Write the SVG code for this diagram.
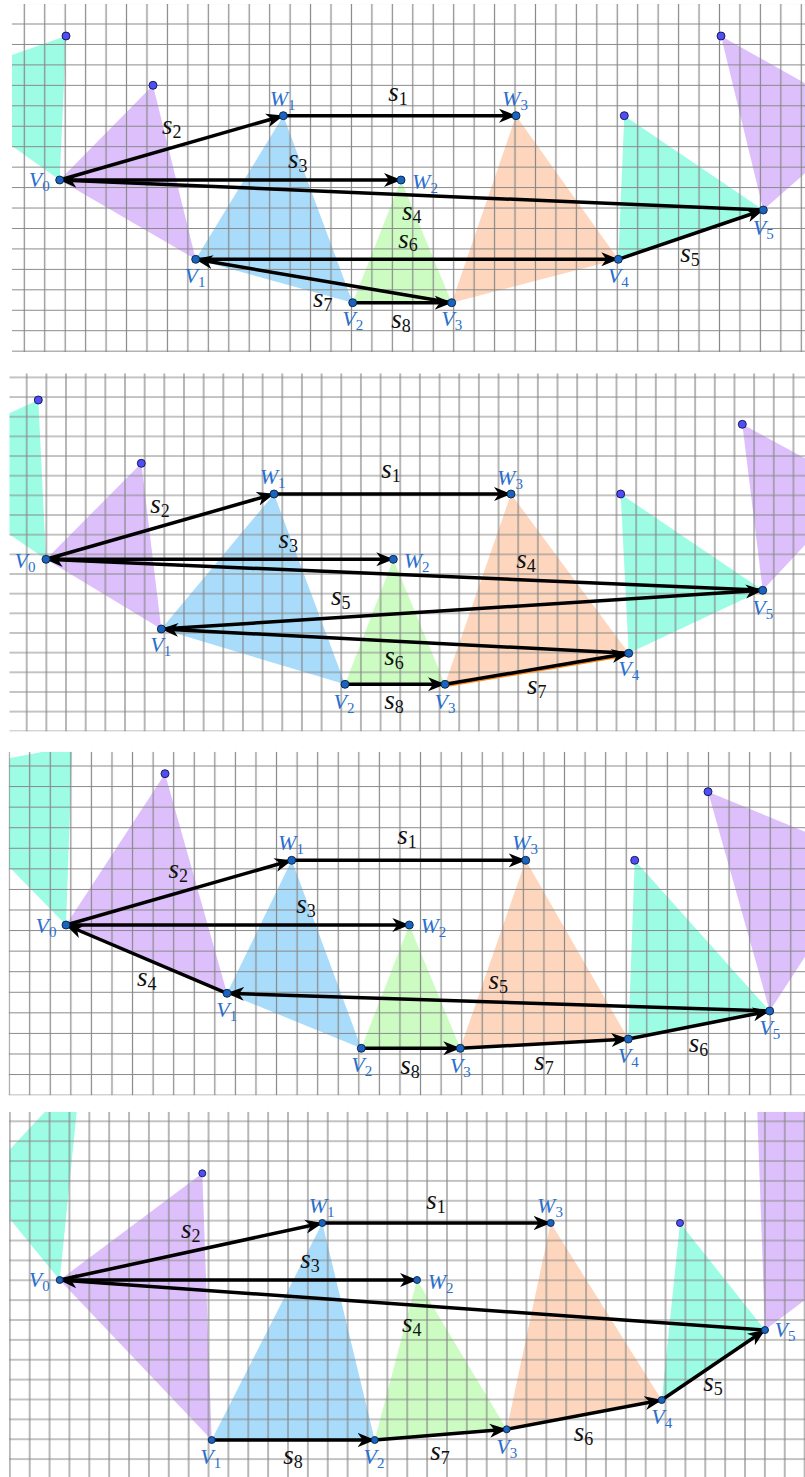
<svg xmlns="http://www.w3.org/2000/svg" width="805" height="1477" viewBox="0 0 805 1477">
<style>
.grid{stroke:#888;stroke-width:1.2;fill:none}
.teal{fill:#9cfce4}.pur{fill:#ddc0fb}.blu{fill:#a9dbfa}.grn{fill:#cdfcc3}.org{fill:#fdd6bd}
.cn line{stroke:#000;stroke-width:3.5;marker-end:url(#ah)}
.nd{fill:#1a63bf;stroke:#0a2240;stroke-width:0.9}
.fr{fill:#4f4ff5;stroke:#101050;stroke-width:0.9}
.nl{font-family:"Liberation Serif",serif;font-style:italic;font-size:22px;fill:#2a6fce;text-anchor:middle}
.sl{font-family:"Liberation Serif",serif;font-style:italic;font-size:27px;fill:#111;text-anchor:middle}
.nl .sb{font-style:normal;font-size:15px}
.sl .sb{font-style:normal;font-size:18px}
</style>
<defs>
<marker id="ah" markerUnits="userSpaceOnUse" markerWidth="18" markerHeight="16" viewBox="0 0 18 16" refX="17" refY="8" orient="auto">
<path d="M0,1 L17.5,8 L0,15 L5,8 Z" fill="#000"/>
</marker>
<pattern id="g1" patternUnits="userSpaceOnUse" x="14.077" y="13.777" width="20.447" height="20.447"><path class="grid" d="M10.223,0V20.447M0,10.223H20.447"/></pattern>
<pattern id="g2" patternUnits="userSpaceOnUse" x="16.87" y="367.57" width="19.66" height="19.66"><path class="grid" d="M9.83,0V19.66M0,9.83H19.66"/></pattern>
<pattern id="g3" patternUnits="userSpaceOnUse" x="19.415" y="755.715" width="20.57" height="20.57"><path class="grid" d="M10.285,0V20.57M0,10.285H20.57"/></pattern>
<pattern id="g4" patternUnits="userSpaceOnUse" x="19.765" y="1111.365" width="19.87" height="19.87"><path class="grid" d="M9.935,0V19.87M0,9.935H19.87"/></pattern>
<clipPath id="c1"><rect x="12" y="4" width="793" height="348"/></clipPath>
<clipPath id="c2"><rect x="9.3" y="373.3" width="795.7" height="358.3"/></clipPath>
<clipPath id="c3"><rect x="8.5" y="751.7" width="796.5" height="343.9"/></clipPath>
<clipPath id="c4"><rect x="9" y="1111.7" width="796" height="365.3"/></clipPath>
</defs>
<rect width="805" height="1477" fill="#fff"/>

<!-- PANEL 1 -->
<g id="panel1" clip-path="url(#c1)">
<g id="p1-fills">
<polygon class="teal" points="66,36 12,55 12,146 59.7,180"/>
<polygon class="pur" points="153,85.3 59.7,180 195.7,259.3"/>
<polygon class="blu" points="283.3,115.7 195.7,259.3 352.7,302.7"/>
<polygon class="grn" points="401,180 352.7,302.7 451.7,302.7"/>
<polygon class="org" points="516,115.7 451.7,302.7 618.3,259.3"/>
<polygon class="teal" points="624.3,115.7 618.3,259.3 763.3,210"/>
<polygon class="pur" points="721,36 805,83.3 805,173.3 763.3,210"/>
</g>
<rect x="12" y="4" width="793" height="348" fill="url(#g1)"/>
<g id="p1-connectors" class="cn">
<line x1="283.3" y1="115.7" x2="516" y2="115.7"/>
<line x1="59.7" y1="180" x2="283.3" y2="115.7"/>
<line x1="59.7" y1="180" x2="401" y2="180"/>
<line x1="763.3" y1="210" x2="59.7" y2="180"/>
<line x1="618.3" y1="259.3" x2="763.3" y2="210"/>
<line x1="195.7" y1="259.3" x2="618.3" y2="259.3"/>
<line x1="451.7" y1="302.7" x2="195.7" y2="259.3"/>
<line x1="352.7" y1="302.7" x2="451.7" y2="302.7"/>
</g>
<g id="p1-free"><circle class="fr" cx="66" cy="36" r="4"/><circle class="fr" cx="153" cy="85.3" r="4"/><circle class="fr" cx="624.3" cy="115.7" r="4"/><circle class="fr" cx="721" cy="36" r="4"/></g>
<g id="p1-V0"><circle class="nd" cx="59.7" cy="180" r="4"/><text class="nl" x="39.3" y="187">V<tspan class="sb" dy="4">0</tspan></text></g>
<g id="p1-V1"><circle class="nd" cx="195.7" cy="259.3" r="4"/><text class="nl" x="195" y="283">V<tspan class="sb" dy="4">1</tspan></text></g>
<g id="p1-V2"><circle class="nd" cx="352.7" cy="302.7" r="4"/><text class="nl" x="352.7" y="326">V<tspan class="sb" dy="4">2</tspan></text></g>
<g id="p1-V3"><circle class="nd" cx="451.7" cy="302.7" r="4"/><text class="nl" x="451.7" y="326.3">V<tspan class="sb" dy="4">3</tspan></text></g>
<g id="p1-V4"><circle class="nd" cx="618.3" cy="259.3" r="4"/><text class="nl" x="618.3" y="283">V<tspan class="sb" dy="4">4</tspan></text></g>
<g id="p1-V5"><circle class="nd" cx="763.3" cy="210" r="4"/><text class="nl" x="763.3" y="235.3">V<tspan class="sb" dy="4">5</tspan></text></g>
<g id="p1-W1"><circle class="nd" cx="283.3" cy="115.7" r="4"/><text class="nl" x="282.7" y="106.3">W<tspan class="sb" dy="4">1</tspan></text></g>
<g id="p1-W2"><circle class="nd" cx="401" cy="180" r="4"/><text class="nl" x="425" y="188.7">W<tspan class="sb" dy="4">2</tspan></text></g>
<g id="p1-W3"><circle class="nd" cx="516" cy="115.7" r="4"/><text class="nl" x="515" y="106.3">W<tspan class="sb" dy="4">3</tspan></text></g>
<g id="p1-labels">
<text class="sl" x="398" y="101">s<tspan class="sb" dy="4">1</tspan></text>
<text class="sl" x="171.7" y="133.7">s<tspan class="sb" dy="4">2</tspan></text>
<text class="sl" x="297.7" y="168.3">s<tspan class="sb" dy="4">3</tspan></text>
<text class="sl" x="411.7" y="220">s<tspan class="sb" dy="3">4</tspan></text>
<text class="sl" x="690" y="262">s<tspan class="sb" dy="4">5</tspan></text>
<text class="sl" x="408" y="247.5">s<tspan class="sb" dy="3">6</tspan></text>
<text class="sl" x="322.7" y="306.7">s<tspan class="sb" dy="4">7</tspan></text>
<text class="sl" x="401" y="328">s<tspan class="sb" dy="4">8</tspan></text>
</g>
</g>

<!-- PANEL 2 -->
<g id="panel2" clip-path="url(#c2)">
<g id="p2-fills">
<polygon class="teal" points="38.3,400 9.3,413.3 9.3,534.3 46,559.3"/>
<polygon class="pur" points="141.3,463.3 46,559.3 161.3,629"/>
<polygon class="blu" points="274,494 161.3,629 345,684.3"/>
<polygon class="grn" points="393.3,559.3 345,684.3 445,684.3"/>
<polygon class="org" points="511,494 445,684.3 628.7,653.3"/>
<polygon class="teal" points="620.7,494 628.7,653.3 762.7,590.3"/>
<polygon class="pur" points="742.3,424.3 805,458.3 805,545 762.7,590.3"/>
</g>
<rect x="9.3" y="373.3" width="795.7" height="358.3" fill="url(#g2)"/>
<g id="p2-connectors" class="cn">
<line x1="445" y1="685.8" x2="628.7" y2="654.8" style="stroke:#ff8a1c;stroke-width:3;marker-end:none"/>
<line x1="274" y1="494" x2="511" y2="494"/>
<line x1="46" y1="559.3" x2="274" y2="494"/>
<line x1="46" y1="559.3" x2="393.3" y2="559.3"/>
<line x1="762.7" y1="590.3" x2="46" y2="559.3"/>
<line x1="161.3" y1="629" x2="762.7" y2="590.3"/>
<line x1="628.7" y1="653.3" x2="161.3" y2="629"/>
<line x1="445" y1="684.3" x2="628.7" y2="653.3"/>
<line x1="345" y1="684.3" x2="445" y2="684.3"/>
</g>
<g id="p2-free"><circle class="fr" cx="38.3" cy="400" r="4"/><circle class="fr" cx="141.3" cy="463.3" r="4"/><circle class="fr" cx="620.7" cy="494" r="4"/><circle class="fr" cx="742.3" cy="424.3" r="4"/></g>
<g id="p2-V0"><circle class="nd" cx="46" cy="559.3" r="4"/><text class="nl" x="25" y="568">V<tspan class="sb" dy="4">0</tspan></text></g>
<g id="p2-V1"><circle class="nd" cx="161.3" cy="629" r="4"/><text class="nl" x="160.7" y="652">V<tspan class="sb" dy="4">1</tspan></text></g>
<g id="p2-V2"><circle class="nd" cx="345" cy="684.3" r="4"/><text class="nl" x="344" y="708.7">V<tspan class="sb" dy="4">2</tspan></text></g>
<g id="p2-V3"><circle class="nd" cx="445" cy="684.3" r="4"/><text class="nl" x="445" y="708.7">V<tspan class="sb" dy="4">3</tspan></text></g>
<g id="p2-V4"><circle class="nd" cx="628.7" cy="653.3" r="4"/><text class="nl" x="628.7" y="676">V<tspan class="sb" dy="4">4</tspan></text></g>
<g id="p2-V5"><circle class="nd" cx="762.7" cy="590.3" r="4"/><text class="nl" x="762.7" y="614.7">V<tspan class="sb" dy="4">5</tspan></text></g>
<g id="p2-W1"><circle class="nd" cx="274" cy="494" r="4"/><text class="nl" x="272.7" y="484.3">W<tspan class="sb" dy="4">1</tspan></text></g>
<g id="p2-W2"><circle class="nd" cx="393.3" cy="559.3" r="4"/><text class="nl" x="416.7" y="568">W<tspan class="sb" dy="4">2</tspan></text></g>
<g id="p2-W3"><circle class="nd" cx="511" cy="494" r="4"/><text class="nl" x="510" y="484.7">W<tspan class="sb" dy="4">3</tspan></text></g>
<g id="p2-labels">
<text class="sl" x="391" y="478">s<tspan class="sb" dy="4">1</tspan></text>
<text class="sl" x="160" y="512.7">s<tspan class="sb" dy="4">2</tspan></text>
<text class="sl" x="288.3" y="547.7">s<tspan class="sb" dy="4">3</tspan></text>
<text class="sl" x="526" y="567.7">s<tspan class="sb" dy="4">4</tspan></text>
<text class="sl" x="340.7" y="605.3">s<tspan class="sb" dy="4">5</tspan></text>
<text class="sl" x="394" y="665">s<tspan class="sb" dy="4">6</tspan></text>
<text class="sl" x="536.7" y="694.3">s<tspan class="sb" dy="4">7</tspan></text>
<text class="sl" x="394" y="709">s<tspan class="sb" dy="4">8</tspan></text>
</g>
</g>

<!-- PANEL 3 -->
<g id="panel3" clip-path="url(#c3)">
<g id="p3-fills">
<polygon class="teal" points="9,758.3 43.3,751.7 72,751.7 66,925 9,866.7"/>
<polygon class="pur" points="165,773.7 66,925 227,993.3"/>
<polygon class="blu" points="291.7,860.3 227,993.3 361.3,1048.3"/>
<polygon class="grn" points="409.3,925 361.3,1048.3 460.3,1048.3"/>
<polygon class="org" points="525.7,860.3 460.3,1048.3 628.3,1039"/>
<polygon class="teal" points="634.7,860.3 628.3,1039 769.7,1011"/>
<polygon class="pur" points="708,791.7 805,831.7 805,956.7 769.7,1011"/>
</g>
<rect x="8.5" y="751.7" width="796.5" height="343.9" fill="url(#g3)"/>
<g id="p3-connectors" class="cn">
<line x1="291.7" y1="860.3" x2="525.7" y2="860.3"/>
<line x1="66" y1="925" x2="291.7" y2="860.3"/>
<line x1="66" y1="925" x2="409.3" y2="925"/>
<line x1="227" y1="993.3" x2="66" y2="925"/>
<line x1="769.7" y1="1011" x2="227" y2="993.3"/>
<line x1="628.3" y1="1039" x2="769.7" y2="1011"/>
<line x1="460.3" y1="1048.3" x2="628.3" y2="1039"/>
<line x1="361.3" y1="1048.3" x2="460.3" y2="1048.3"/>
</g>
<g id="p3-free"><circle class="fr" cx="165" cy="773.7" r="4"/><circle class="fr" cx="634.7" cy="860.3" r="4"/><circle class="fr" cx="708" cy="791.7" r="4"/></g>
<g id="p3-V0"><circle class="nd" cx="66" cy="925" r="4"/><text class="nl" x="46" y="932.7">V<tspan class="sb" dy="4">0</tspan></text></g>
<g id="p3-V1"><circle class="nd" cx="227" cy="993.3" r="4"/><text class="nl" x="226.7" y="1017">V<tspan class="sb" dy="4">1</tspan></text></g>
<g id="p3-V2"><circle class="nd" cx="361.3" cy="1048.3" r="4"/><text class="nl" x="361.7" y="1072">V<tspan class="sb" dy="4">2</tspan></text></g>
<g id="p3-V3"><circle class="nd" cx="460.3" cy="1048.3" r="4"/><text class="nl" x="460.3" y="1072.7">V<tspan class="sb" dy="4">3</tspan></text></g>
<g id="p3-V4"><circle class="nd" cx="628.3" cy="1039" r="4"/><text class="nl" x="628.3" y="1063">V<tspan class="sb" dy="4">4</tspan></text></g>
<g id="p3-V5"><circle class="nd" cx="769.7" cy="1011" r="4"/><text class="nl" x="769.7" y="1035.3">V<tspan class="sb" dy="4">5</tspan></text></g>
<g id="p3-W1"><circle class="nd" cx="291.7" cy="860.3" r="4"/><text class="nl" x="291" y="850.3">W<tspan class="sb" dy="4">1</tspan></text></g>
<g id="p3-W2"><circle class="nd" cx="409.3" cy="925" r="4"/><text class="nl" x="433.3" y="932.7">W<tspan class="sb" dy="4">2</tspan></text></g>
<g id="p3-W3"><circle class="nd" cx="525.7" cy="860.3" r="4"/><text class="nl" x="525" y="850.3">W<tspan class="sb" dy="4">3</tspan></text></g>
<g id="p3-labels">
<text class="sl" x="407" y="844">s<tspan class="sb" dy="4">1</tspan></text>
<text class="sl" x="178.3" y="877.7">s<tspan class="sb" dy="4">2</tspan></text>
<text class="sl" x="306" y="912.7">s<tspan class="sb" dy="4">3</tspan></text>
<text class="sl" x="146.7" y="986">s<tspan class="sb" dy="4">4</tspan></text>
<text class="sl" x="498.3" y="988.7">s<tspan class="sb" dy="4">5</tspan></text>
<text class="sl" x="698.5" y="1052">s<tspan class="sb" dy="4">6</tspan></text>
<text class="sl" x="544" y="1070.3">s<tspan class="sb" dy="4">7</tspan></text>
<text class="sl" x="410" y="1074">s<tspan class="sb" dy="4">8</tspan></text>
</g>
</g>

<!-- PANEL 4 -->
<g id="panel4" clip-path="url(#c4)">
<g id="p4-fills">
<polygon class="teal" points="9.3,1150 45,1111.7 76.7,1111.7 59.7,1280 9.3,1218.3"/>
<polygon class="pur" points="202.3,1173.3 59.7,1280 211.7,1440"/>
<polygon class="blu" points="322.3,1223 211.7,1440 374.7,1440"/>
<polygon class="grn" points="417,1280 374.7,1440 506.7,1429.3"/>
<polygon class="org" points="550.7,1223 506.7,1429.3 661.7,1400"/>
<polygon class="teal" points="680,1223 661.7,1400 765,1330"/>
<polygon class="pur" points="757.3,1111.7 805,1111.7 805,1300 765,1330"/>
</g>
<rect x="9" y="1111.7" width="796" height="365.3" fill="url(#g4)"/>
<g id="p4-connectors" class="cn">
<line x1="322.3" y1="1223" x2="550.7" y2="1223"/>
<line x1="59.7" y1="1280" x2="322.3" y2="1223"/>
<line x1="59.7" y1="1280" x2="417" y2="1280"/>
<line x1="765" y1="1330" x2="59.7" y2="1280"/>
<line x1="661.7" y1="1400" x2="765" y2="1330"/>
<line x1="506.7" y1="1429.3" x2="661.7" y2="1400"/>
<line x1="374.7" y1="1440" x2="506.7" y2="1429.3"/>
<line x1="211.7" y1="1440" x2="374.7" y2="1440"/>
</g>
<g id="p4-free"><circle class="fr" cx="202.3" cy="1173.3" r="3.5"/><circle class="fr" cx="680" cy="1223" r="3.5"/></g>
<g id="p4-V0"><circle class="nd" cx="59.7" cy="1280" r="3.5"/><text class="nl" x="39.3" y="1287">V<tspan class="sb" dy="4">0</tspan></text></g>
<g id="p4-V1"><circle class="nd" cx="211.7" cy="1440" r="3.5"/><text class="nl" x="210.7" y="1463.7">V<tspan class="sb" dy="4">1</tspan></text></g>
<g id="p4-V2"><circle class="nd" cx="374.7" cy="1440" r="3.5"/><text class="nl" x="374" y="1463.7">V<tspan class="sb" dy="4">2</tspan></text></g>
<g id="p4-V3"><circle class="nd" cx="506.7" cy="1429.3" r="3.5"/><text class="nl" x="506.7" y="1453.7">V<tspan class="sb" dy="4">3</tspan></text></g>
<g id="p4-V4"><circle class="nd" cx="661.7" cy="1400" r="3.5"/><text class="nl" x="661.7" y="1423.7">V<tspan class="sb" dy="4">4</tspan></text></g>
<g id="p4-V5"><circle class="nd" cx="765" cy="1330" r="3.5"/><text class="nl" x="785" y="1337">V<tspan class="sb" dy="4">5</tspan></text></g>
<g id="p4-W1"><circle class="nd" cx="322.3" cy="1223" r="3.5"/><text class="nl" x="321.7" y="1213">W<tspan class="sb" dy="4">1</tspan></text></g>
<g id="p4-W2"><circle class="nd" cx="417" cy="1280" r="3.5"/><text class="nl" x="440.7" y="1288.7">W<tspan class="sb" dy="4">2</tspan></text></g>
<g id="p4-W3"><circle class="nd" cx="550.7" cy="1223" r="3.5"/><text class="nl" x="550" y="1213">W<tspan class="sb" dy="4">3</tspan></text></g>
<g id="p4-labels">
<text class="sl" x="436" y="1209.3">s<tspan class="sb" dy="4">1</tspan></text>
<text class="sl" x="190.8" y="1237.7">s<tspan class="sb" dy="4">2</tspan></text>
<text class="sl" x="310" y="1267.7">s<tspan class="sb" dy="4">3</tspan></text>
<text class="sl" x="411.7" y="1332">s<tspan class="sb" dy="4">4</tspan></text>
<text class="sl" x="713" y="1391">s<tspan class="sb" dy="4">5</tspan></text>
<text class="sl" x="583.5" y="1441">s<tspan class="sb" dy="4">6</tspan></text>
<text class="sl" x="440" y="1460">s<tspan class="sb" dy="4">7</tspan></text>
<text class="sl" x="293" y="1464.3">s<tspan class="sb" dy="4">8</tspan></text>
</g>
</g>
</svg>
